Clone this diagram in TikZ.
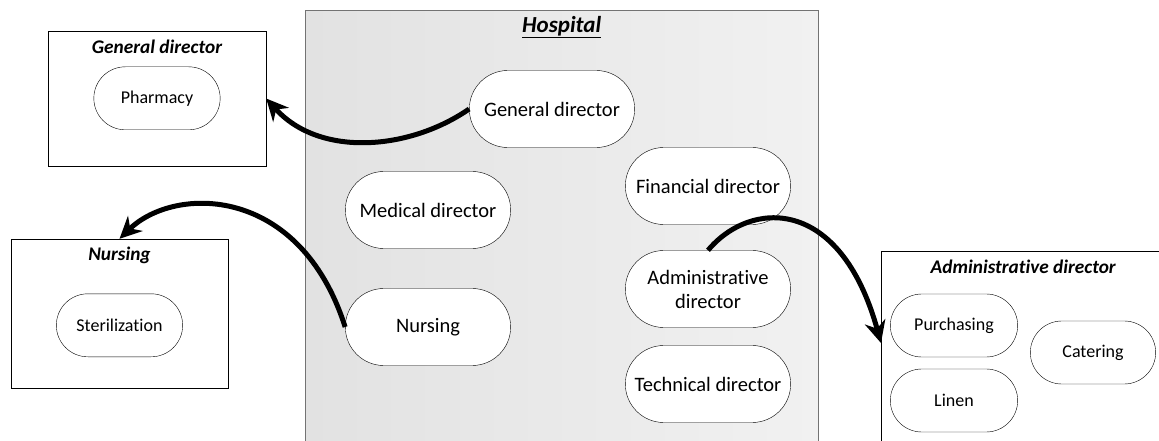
\documentclass[tikz,border=0pt]{standalone}
\usepackage{fontspec}
\setmainfont{Carlito}[Ligatures={NoCommon}]
\usetikzlibrary{positioning, arrows.meta, shapes.misc}

\definecolor{hospleft}{HTML}{E2E2E2}
\definecolor{hospright}{HTML}{F1F1F1}

\begin{document}
\begin{tikzpicture}[x=1pt, y=-1pt, on grid,
    unit/.style={rounded rectangle, draw, fill=white, minimum width=172pt,
                 minimum height=77pt, align=center, font=\fontsize{20.5}{24}\selectfont},
    subunit/.style={unit, minimum width=133pt, minimum height=63pt, font=\fontsize{18}{21}\selectfont},
    group/.style={draw, rectangle, fill=white, inner sep=0pt},
    title/.style={font=\fontsize{19.3}{22}\selectfont\bfseries\itshape},
    link/.style={-{Stealth[length=22pt, width=21pt]}, line width=5pt}]
              \clip (0,0) rectangle (1159,441);

              % Hospital y sus direcciones
              \node[group, draw=black!55, left color=hospleft, right color=hospright,
                    minimum width=513pt, minimum height=450pt, anchor=north west] (hosp) at (305,10) {};
              \node[title, font=\fontsize{23}{26}\selectfont\bfseries\itshape,
                    below=17pt of hosp.north, anchor=center] (hosptitle) {\underline{Hospital}};

              \node[unit] (gendir) at (552,109) {General director};
              \node[unit] (meddir) at (428,210) {Medical director};
              \node[unit] (nursing) [below=117pt of meddir] {Nursing};
              \node[unit] (findir) at (708,186) {Financial director};
              \node[unit] (admdir) [below=103pt of findir] {Administrative\\director};
              \node[unit] (techdir) [below=95pt of admdir] {Technical director};

              % Unidades a la izquierda
              \node[group, minimum width=218pt, minimum height=135pt] (gdbox) at (157,98.5) {};
              \node[title, below=16pt of gdbox.north, anchor=center] (gdtitle) {General director};
              \node[subunit, below=67.5pt of gdbox.north, anchor=center] (pharmacy) {Pharmacy};

              \node[group, minimum width=217pt, minimum height=149pt] (nursebox) at (119.5,313.5) {};
              \node[title, below=17pt of nursebox.north, anchor=center] (nursetitle) {Nursing};
              \node[subunit, below=86.5pt of nursebox.north, anchor=center] (steril) {Sterilization};

              % Unidades a la derecha
              \node[group, minimum width=284pt, minimum height=210pt, anchor=north west] (admbox) at (881,251) {};
              \node[title, below=16pt of admbox.north, anchor=center] (admtitle) {Administrative director};
              \node[subunit, minimum width=134pt] (purchasing) at (954,325.5) {Purchasing};
              \node[subunit, minimum width=132pt] (catering) [below right=27pt and 139pt of purchasing] {Catering};
              \node[subunit, minimum width=134pt] (linen) [below=75pt of purchasing] {Linen};
              \coordinate (admentry) at (881,343);

              % Flechas
              \draw[link] (gendir.west) .. controls (410,150) and (320,158) .. (gdbox.east);
              \draw[link] (nursing.west) .. controls (300,185) and (175,185) .. (nursebox.north);
              \draw[link] (admdir.north) .. controls (750,200) and (840,195) .. (admentry);

          \end{tikzpicture}
\end{document}
